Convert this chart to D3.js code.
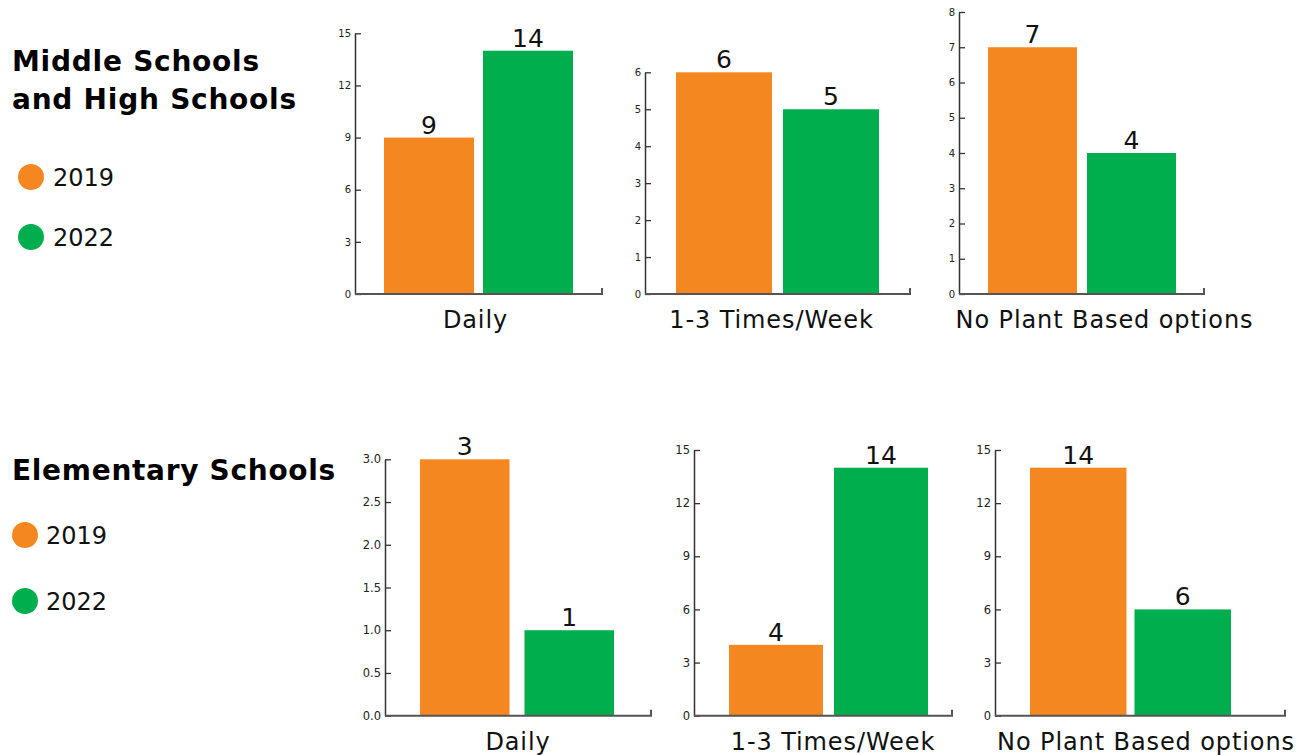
<!DOCTYPE html>
<html>
<head>
<meta charset="utf-8">
<script src="https://cdn.jsdelivr.net/npm/d3@7"></script>
<style>
  html, body { margin: 0; padding: 0; background: #fff; }
  svg { display: block; font-family: "DejaVu Sans", sans-serif; }
</style>
</head>
<body>
<svg id="chart" width="1299" height="755"></svg>
<script>
// ---- data ----
const years = ["2019", "2022"];
const categories = ["Daily", "1-3 Times/Week", "No Plant Based options"];
const groupTitles = [["Middle Schools", "and High Schools"], ["Elementary Schools"]];

const middleHigh2019 = [9, 6, 7];
const middleHigh2022 = [14, 5, 4];
const elementary2019 = [3, 4, 14];
const elementary2022 = [1, 14, 6];

// y-axis tick values for each panel
const middleHighTicks = [
  [0, 3, 6, 9, 12, 15],
  [0, 1, 2, 3, 4, 5, 6],
  [0, 1, 2, 3, 4, 5, 6, 7, 8]
];
const elementaryTicks = [
  [0, 0.5, 1, 1.5, 2, 2.5, 3],
  [0, 3, 6, 9, 12, 15],
  [0, 3, 6, 9, 12, 15]
];
const elementaryTickFormat = [".1f", "d", "d"];

const colors = { "2019": "#F58720", "2022": "#00AE4D" };

// ---- layout ----
const rows = [
  {
    titleY: 71, titleLineGap: 38, titleX: 12, titleSize: 28, titleSpacing: 0.75,
    legend: { cx: 31, textX: 53, ys: [177, 237] },
    zeroY: 294, tickSize: 10, labelY: 328,
    panels: [
      { left: 355, right: 602, top: 33.3, barL: 384, barR: 573, gap: 9,  labelDx: -3 },
      { left: 645, right: 910, top: 72.3, barL: 676, barR: 879, gap: 11, labelDx: -6 },
      { left: 959, right: 1204, top: 12,  barL: 988, barR: 1176, gap: 10, labelDx: 23 }
    ],
    v2019: middleHigh2019, v2022: middleHigh2022, ticks: middleHighTicks,
    formats: ["d", "d", "d"]
  },
  {
    titleY: 480, titleLineGap: 38, titleX: 12, titleSize: 28, titleSpacing: 0.7,
    legend: { cx: 25, textX: 46, ys: [535, 601] },
    zeroY: 715.7, tickSize: 11.5, labelY: 750,
    panels: [
      { left: 385, right: 651, top: 459.3, barL: 420, barR: 614, gap: 15, labelDx: 0 },
      { left: 694, right: 952, top: 450,   barL: 729, barR: 928, gap: 11, labelDx: 10 },
      { left: 995, right: 1285, top: 450,  barL: 1030, barR: 1231, gap: 8, labelDx: 6 }
    ],
    v2019: elementary2019, v2022: elementary2022, ticks: elementaryTicks,
    formats: elementaryTickFormat
  }
];

const svg = d3.select("#chart");

rows.forEach((row, ri) => {
  const g = svg.append("g");

  // group title
  const title = g.append("text")
    .attr("x", row.titleX)
    .attr("y", row.titleY)
    .attr("font-size", row.titleSize)
    .attr("font-weight", "bold")
    .attr("letter-spacing", row.titleSpacing)
    .attr("fill", "#000");
  groupTitles[ri].forEach((line, li) => {
    title.append("tspan")
      .attr("x", row.titleX)
      .attr("dy", li === 0 ? 0 : row.titleLineGap)
      .text(line);
  });

  // legend
  years.forEach((yr, i) => {
    g.append("circle")
      .attr("cx", row.legend.cx)
      .attr("cy", row.legend.ys[i])
      .attr("r", 13)
      .attr("fill", colors[yr]);
    g.append("text")
      .attr("x", row.legend.textX)
      .attr("y", row.legend.ys[i] + 8.5)
      .attr("font-size", 24)
      .attr("fill", "#111")
      .text(yr);
  });

  // panels
  row.panels.forEach((p, pi) => {
    const ticks = row.ticks[pi];
    const yMax = d3.max(ticks);
    const y = d3.scaleLinear().domain([0, yMax]).range([row.zeroY, p.top]);
    const span = p.barR - p.barL;
    const x = d3.scaleBand()
      .domain(years)
      .range([p.barL, p.barR])
      .paddingInner(p.gap / ((span + p.gap) / 2))
      .paddingOuter(0);

    const values = { "2019": row.v2019[pi], "2022": row.v2022[pi] };
    const pg = g.append("g");

    // bars
    pg.selectAll("rect.bar")
      .data(years)
      .join("rect")
      .attr("class", "bar")
      .attr("x", d => x(d))
      .attr("width", x.bandwidth())
      .attr("y", d => y(values[d]))
      .attr("height", d => y(0) - y(values[d]))
      .attr("fill", d => colors[d]);

    // value labels
    pg.selectAll("text.value")
      .data(years)
      .join("text")
      .attr("class", "value")
      .attr("x", d => x(d) + x.bandwidth() / 2)
      .attr("y", d => y(values[d]) - 4)
      .attr("text-anchor", "middle")
      .attr("font-size", 25)
      .attr("fill", "#111")
      .text(d => values[d]);

    // y axis with inward ticks
    const yAxis = d3.axisLeft(y)
      .tickValues(ticks)
      .tickFormat(d3.format(row.formats[pi]))
      .tickSizeInner(-6)
      .tickSizeOuter(0)
      .tickPadding(4);
    const ya = pg.append("g")
      .attr("transform", `translate(${p.left},0)`)
      .call(yAxis);
    ya.select(".domain").attr("stroke", "#333").attr("stroke-width", 1.5);
    ya.selectAll(".tick line").attr("stroke", "#333").attr("stroke-width", 1.3);
    ya.selectAll(".tick text")
      .attr("font-size", row.tickSize)
      .attr("font-family", "'DejaVu Sans', sans-serif")
      .attr("fill", "#222");

    // baseline with a small end tick
    pg.append("path")
      .attr("d", `M${p.left},${y(0)}H${p.right}V${y(0) - 6}`)
      .attr("fill", "none")
      .attr("stroke", "#555")
      .attr("stroke-width", 2);

    // category label
    pg.append("text")
      .attr("x", (p.left + p.right) / 2 + p.labelDx)
      .attr("y", row.labelY)
      .attr("text-anchor", "middle")
      .attr("font-size", 24)
      .attr("letter-spacing", 0.9)
      .attr("fill", "#111")
      .text(categories[pi]);
  });
});
</script>
</body>
</html>
